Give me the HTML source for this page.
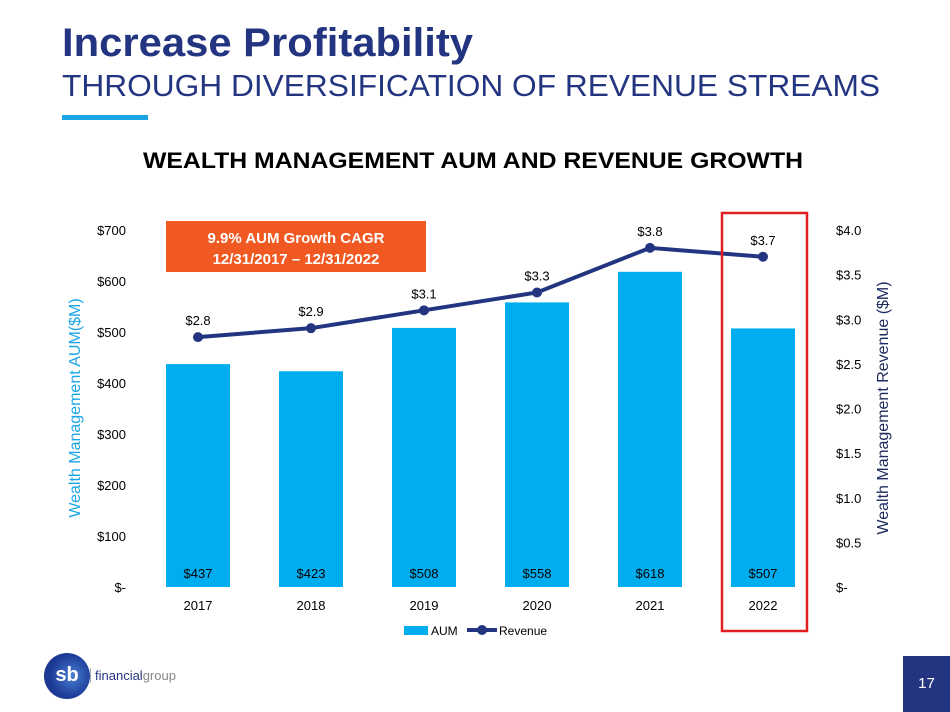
<!DOCTYPE html>
<html><head><meta charset="utf-8"><style>
body{margin:0;width:950px;height:712px;background:#fff;position:relative;overflow:hidden;font-family:"Liberation Sans",Arial,sans-serif}
.abs{position:absolute}
</style></head><body>
<svg class="abs" style="left:0;top:0" width="950" height="130">
<text x="62" y="56" font-size="40" font-weight="bold" fill="#233580" textLength="411" lengthAdjust="spacingAndGlyphs">Increase Profitability</text>
<text x="62" y="96" font-size="31" fill="#233580" textLength="818" lengthAdjust="spacingAndGlyphs">THROUGH DIVERSIFICATION OF REVENUE STREAMS</text>
</svg>
<div class="abs" style="left:62px;top:115px;width:86px;height:5px;background:#1aa6e4"></div>
<div class="abs" style="left:903px;top:656px;width:47px;height:56px;background:#233580;color:#fff;font-size:15px;text-align:center;line-height:56px">17</div>
<div class="abs" style="left:44px;top:653px;width:46px;height:46px;border-radius:50%;background:radial-gradient(circle at 60% 50%,#4a7fd0,#1c3a98 60%,#20307a);color:#fff;font-weight:bold;font-size:20px;line-height:44px;text-align:center">sb</div>
<div class="abs" style="left:90px;top:668px;font-size:13px;color:#233580;border-left:1px solid #aaa;padding-left:4px">financial<span style="color:#888">group</span></div>
<svg class="abs" style="left:0;top:0" width="950" height="712" id="chart"></svg>
<script>
const years=["2017","2018","2019","2020","2021","2022"];
const aum=[437,423,508,558,618,507];
const revenue=[2.8,2.9,3.1,3.3,3.8,3.7];
const leftTicks=[0,100,200,300,400,500,600,700];
const rightTicks=[0,0.5,1,1.5,2,2.5,3,3.5,4];
const svg=document.getElementById('chart');const NS='http://www.w3.org/2000/svg';
const y0=587,y1=230;
const yL=v=>y0-v/700*(y0-y1);
const yR=v=>y0-v/4*(y0-y1);
const xC=i=>198+i*113;
function mk(t,a,txt){const e=document.createElementNS(NS,t);for(const k in a)e.setAttribute(k,a[k]);if(txt!==undefined)e.textContent=txt;svg.appendChild(e);return e;}
let e=mk('text',{x:143,y:168,'font-size':22,'font-weight':'bold',fill:'#000',textLength:660,lengthAdjust:'spacingAndGlyphs'},'WEALTH MANAGEMENT AUM AND REVENUE GROWTH');


leftTicks.forEach(v=>{const t=mk('text',{x:126,y:yL(v)+5,'text-anchor':'end','font-size':13,fill:'#000'},v===0?'$-':'$'+v);

});
rightTicks.forEach(v=>{const t=mk('text',{x:836,y:yR(v)+5,'font-size':13,fill:'#000'},v===0?'$-':'$'+v.toFixed(1));

});
e=mk('text',{transform:'translate(80,408) rotate(-90)','text-anchor':'middle','font-size':16,fill:'#1aa6e4'},'Wealth Management AUM($M)');


e=mk('text',{transform:'translate(888,408) rotate(-90)','text-anchor':'middle','font-size':16,fill:'#1e2a5e'},'Wealth Management Revenue ($M)');


years.forEach((y,i)=>{
const b=mk('rect',{x:xC(i)-32,y:yL(aum[i]),width:64,height:y0-yL(aum[i]),fill:'#00aeef'});


const l=mk('text',{x:xC(i),y:578,'text-anchor':'middle','font-size':13,fill:'#000'},'$'+aum[i]);


const c=mk('text',{x:xC(i),y:610,'text-anchor':'middle','font-size':13,fill:'#000'},y);


});
const ln=mk('polyline',{points:revenue.map((v,i)=>xC(i)+','+yR(v)).join(' '),fill:'none',stroke:'#233580','stroke-width':4});


revenue.forEach((v,i)=>{
const p=mk('circle',{cx:xC(i),cy:yR(v),r:5,fill:'#233580'});


const t=mk('text',{x:xC(i),y:yR(v)-12,'text-anchor':'middle','font-size':13,fill:'#000'},'$'+v.toFixed(1));


});
e=mk('rect',{x:722,y:213,width:85,height:418,fill:'none',stroke:'#e02020','stroke-width':2.5});


e=mk('rect',{x:166,y:221,width:260,height:51,fill:'#f05a22'});


mk('text',{x:296,y:243,'text-anchor':'middle','font-size':15,'font-weight':'bold',fill:'#fff'},'9.9% AUM Growth CAGR');
mk('text',{x:296,y:264,'text-anchor':'middle','font-size':15,'font-weight':'bold',fill:'#fff'},'12/31/2017 – 12/31/2022');
e=mk('rect',{x:404,y:626,width:24,height:9,fill:'#00aeef'});


mk('text',{x:431,y:635,'font-size':12,fill:'#000'},'AUM');
e=mk('line',{x1:467,y1:630,x2:497,y2:630,stroke:'#233580','stroke-width':4});


mk('circle',{cx:482,cy:630,r:5,fill:'#233580'});
mk('text',{x:499,y:635,'font-size':12,fill:'#000'},'Revenue');
</script>
</body></html>
